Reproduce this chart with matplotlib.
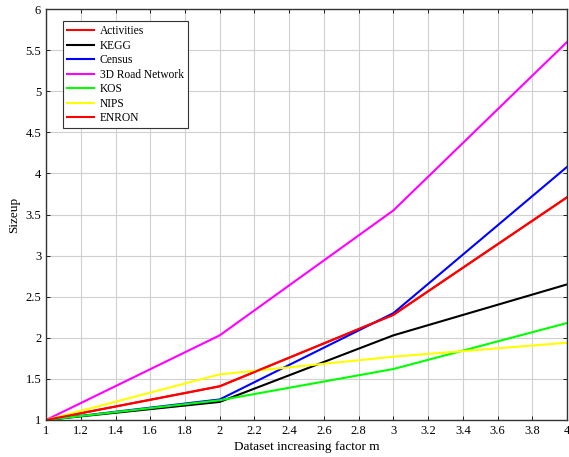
import matplotlib
matplotlib.use("Agg")
import matplotlib.pyplot as plt

plt.rcParams['font.family'] = ['Liberation Serif', 'DejaVu Serif']

m = [1, 2, 3, 4]
activities = [1, 1.41, 2.28, 3.71]
kegg = [1, 1.22, 2.03, 2.65]
census = [1, 1.25, 2.30, 4.08]
road = [1, 2.03, 3.55, 5.60]
kos = [1, 1.24, 1.62, 2.18]
nips = [1, 1.555, 1.77, 1.94]
enron = [1, 1.41, 2.28, 3.71]

names = ['Activities', 'KEGG', 'Census', '3D Road Network', 'KOS', 'NIPS', 'ENRON']
series = [activities, kegg, census, road, kos, nips, enron]
colors = ['#ff0000', '#000000', '#0000ff', '#ff00ff', '#00ff00', '#ffff00', '#ff0000']

fig = plt.figure(figsize=(5.69, 4.57), dpi=100)
ax = fig.add_axes([0.081, 0.081, 0.9155, 0.899])

for vals, name, c in zip(series, names, colors):
    ax.plot(m, vals, color=c, lw=1.5, label=name)

ax.set_xlim(1, 4)
ax.set_ylim(1, 6)
ax.set_xticks([1 + 0.2 * i for i in range(16)])
ax.set_xticklabels(['1', '1.2', '1.4', '1.6', '1.8', '2', '2.2', '2.4', '2.6', '2.8',
                    '3', '3.2', '3.4', '3.6', '3.8', '4'])
ax.set_yticks([1 + 0.5 * i for i in range(11)])
ax.set_yticklabels(['1', '1.5', '2', '2.5', '3', '3.5', '4', '4.5', '5', '5.5', '6'])
ax.tick_params(direction='in', top=True, right=True, labelsize=9, length=3, width=0.6)
ax.grid(True, color='#d0d0d0', lw=0.8)
ax.set_axisbelow(True)
for s in ax.spines.values():
    s.set_linewidth(1.0)
    s.set_color('#333333')

ax.set_xlabel('Dataset increasing factor m', fontsize=9.5, labelpad=3)
ax.set_ylabel('Sizeup', fontsize=9.5, labelpad=4)

leg = ax.legend(loc='upper left', bbox_to_anchor=(0.033, 0.971), fontsize=8.3,
                fancybox=False, framealpha=1, edgecolor='#333333',
                handlelength=2.3, handletextpad=0.5, labelspacing=0.22,
                borderpad=0.35, borderaxespad=0)
leg.get_frame().set_linewidth(0.8)

fig.savefig('out.png', dpi=100)
